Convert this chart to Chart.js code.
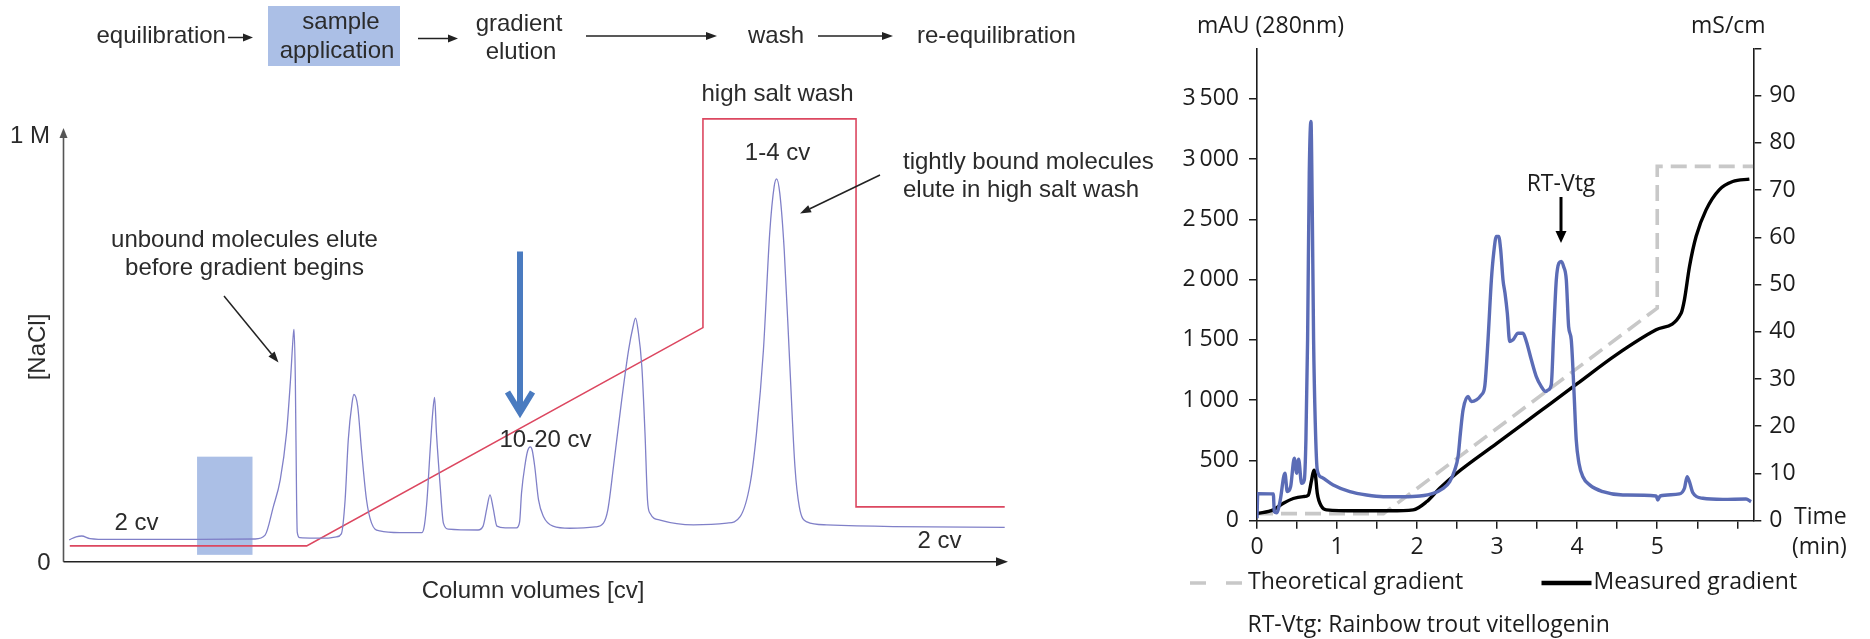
<!DOCTYPE html>
<html>
<head>
<meta charset="utf-8">
<script src="https://cdn.jsdelivr.net/npm/chart.js@4.4.1/dist/chart.umd.min.js"></script>
<style>
  html, body { margin: 0; padding: 0; background: #fff; }
  body { width: 1870px; height: 639px; position: relative; overflow: hidden; }
  canvas { position: absolute; top: 0; }
  #ionx { left: 0; }
  #vtg { left: 1150px; }
</style>
</head>
<body>
<canvas id="ionx" width="1170" height="639"></canvas>
<canvas id="vtg" width="720" height="639"></canvas>
<script>
// ---------- Schematic ion-exchange run: column volumes vs [NaCl] ----------
const stageLabels = ['equilibration', 'sample application', 'gradient elution', 'wash', 're-equilibration'];

// salt concentration programme (cv, M)
const saltCv = [0.10, 3.86, 10.15, 10.15, 12.58, 12.58, 14.94];
const saltM  = [0.037, 0.037, 0.546, 1.033, 1.033, 0.128, 0.128];

// UV absorbance trace (cv, relative signal on the same axis)
const uvCv = [0.09, 0.2, 0.29, 0.42, 0.74, 2.17, 3.04, 3.2, 3.33, 3.44, 3.54, 3.6, 3.65, 3.66, 3.68, 3.7, 3.71, 3.75,
  3.99, 4.2, 4.33, 4.41, 4.47, 4.52, 4.58, 4.61, 4.67, 4.73, 4.81, 4.89, 5.02, 5.34, 5.69, 5.73, 5.77, 5.82, 5.86,
  5.89, 5.92, 5.98, 6.03, 6.11, 6.58, 6.66, 6.72, 6.77, 6.82, 6.88, 7.01, 7.19, 7.24, 7.27, 7.33, 7.37, 7.41, 7.44,
  7.48, 7.54, 7.62, 7.77, 8.04, 8.44, 8.57, 8.64, 8.73, 8.86, 8.97, 9.04, 9.08, 9.12, 9.18, 9.23, 9.27, 9.31, 9.47,
  10.0, 10.53, 10.74, 10.9, 11.0, 11.11, 11.21, 11.28, 11.32, 11.37, 11.44, 11.53, 11.61, 11.68, 11.8, 12.11, 13.17, 14.94];
const uvSignal = [0.051, 0.058, 0.060, 0.054, 0.052, 0.052, 0.053, 0.062, 0.128, 0.191, 0.300, 0.417, 0.533, 0.542,
  0.424, 0.144, 0.069, 0.056, 0.055, 0.055, 0.058, 0.065, 0.144, 0.284, 0.370, 0.390, 0.362, 0.261, 0.144, 0.090,
  0.072, 0.068, 0.068, 0.086, 0.144, 0.261, 0.347, 0.383, 0.300, 0.175, 0.090, 0.076, 0.074, 0.083, 0.125, 0.156,
  0.125, 0.083, 0.079, 0.079, 0.093, 0.160, 0.230, 0.260, 0.268, 0.260, 0.222, 0.144, 0.105, 0.083, 0.078, 0.081,
  0.090, 0.121, 0.222, 0.377, 0.494, 0.548, 0.568, 0.540, 0.455, 0.300, 0.144, 0.113, 0.097, 0.086, 0.090, 0.105,
  0.183, 0.300, 0.494, 0.767, 0.875, 0.893, 0.859, 0.727, 0.455, 0.222, 0.128, 0.093, 0.086, 0.082, 0.080];

// sample application zone (cv range, signal range)
const sampleZoneCv = [2.12, 3.00];
const sampleZoneLevel = [0.016, 0.245];

// ---------- RT-Vtg purification run ----------
const a280Time = [0.0, 0.01, 0.204, 0.216, 0.245, 0.287, 0.349, 0.378, 0.420, 0.466, 0.495, 0.520, 0.557, 0.591,
  0.611, 0.632, 0.653, 0.674, 0.690, 0.707, 0.728, 0.753, 0.807, 0.952, 1.160, 1.368, 1.576, 1.826, 2.034, 2.200,
  2.325, 2.408, 2.470, 2.512, 2.541, 2.574, 2.637, 2.678, 2.741, 2.803, 2.845, 2.886, 2.928, 2.957, 2.990, 3.019,
  3.044, 3.073, 3.098, 3.127, 3.157, 3.198, 3.261, 3.323, 3.365, 3.427, 3.489, 3.552, 3.606, 3.635, 3.676, 3.706,
  3.739, 3.772, 3.801, 3.830, 3.864, 3.893, 3.926, 3.959, 3.988, 4.022, 4.071, 4.155, 4.321, 4.571, 4.986, 5.007,
  5.036, 5.278, 5.340, 5.373, 5.402, 5.444, 5.569, 5.818, 6.109, 6.172];
const a280Mau = [20, 225, 222, 75, 66, 158, 394, 241, 282, 518, 394, 510, 310, 338, 670, 1501, 2885, 3314, 2608,
  1501, 809, 421, 360, 297, 241, 213, 199, 199, 205, 227, 269, 324, 421, 532, 726, 919, 1030, 988, 1002, 1044, 1113,
  1501, 1999, 2221, 2359, 2359, 2249, 1999, 1889, 1723, 1487, 1501, 1556, 1556, 1487, 1335, 1196, 1113, 1071, 1085,
  1127, 1556, 1999, 2138, 2151, 2110, 1999, 1611, 1501, 1085, 670, 477, 365, 297, 241, 213, 205, 172, 205, 222, 269,
  365, 324, 233, 186, 177, 180, 158];

const measuredTime = [0.0, 0.204, 0.329, 0.453, 0.578, 0.640, 0.682, 0.711, 0.728, 0.753, 0.807, 0.869, 1.244, 1.659,
  1.951, 2.117, 2.283, 2.491, 3.0, 3.5, 4.0, 4.487, 4.986, 5.298, 5.340, 5.403, 5.486, 5.610, 5.777, 5.943, 6.151];
const measuredMs = [1.5, 2.3, 3.7, 4.7, 5.1, 5.4, 8.6, 10.7, 10.0, 5.8, 3.0, 2.3, 2.1, 2.1, 2.3, 4.0, 6.9, 10.0, 16.4,
  22.7, 29.0, 35.1, 40.4, 43.9, 46.8, 53.8, 60.2, 65.8, 70.1, 71.8, 72.3];

const theoreticalTime = [0.0, 1.58, 5.0, 5.0, 6.2];
const theoreticalMs = [1.5, 1.5, 45, 75, 75];

const seriesNames = ['mAU (280nm)', 'Measured gradient', 'Theoretical gradient'];

// ---------- drawing helpers ----------
const SANS = '"Liberation Sans", Arial, Helvetica, sans-serif';
const ROUND = '"Open Sans", "Noto Sans", sans-serif';
const SAMPLE_FILL = '#abbfe6';

function pairs(xs, ys) { return xs.map((x, i) => ({ x, y: ys[i] })); }

function text(ctx, s, x, y, opt) {
  const o = Object.assign({ size: 24, family: SANS, align: 'left', color: '#2b2b2b' }, opt || {});
  ctx.font = o.size + 'px ' + o.family;
  ctx.fillStyle = o.color;
  ctx.textAlign = o.align;
  ctx.textBaseline = 'middle';
  ctx.fillText(s, x, y);
}

function arrow(ctx, x1, y1, x2, y2, opt) {
  const o = Object.assign({ color: '#222', width: 1.5, head: 10, half: 4 }, opt || {});
  const a = Math.atan2(y2 - y1, x2 - x1);
  const bx = x2 - o.head * Math.cos(a), by = y2 - o.head * Math.sin(a);
  ctx.strokeStyle = o.color; ctx.lineWidth = o.width; ctx.lineCap = 'butt';
  ctx.beginPath(); ctx.moveTo(x1, y1); ctx.lineTo(bx, by); ctx.stroke();
  ctx.fillStyle = o.color;
  ctx.beginPath();
  ctx.moveTo(x2, y2);
  ctx.lineTo(bx + o.half * Math.sin(a), by - o.half * Math.cos(a));
  ctx.lineTo(bx - o.half * Math.sin(a), by + o.half * Math.cos(a));
  ctx.closePath(); ctx.fill();
}

// ---------- left: schematic ----------
const ionxDecor = {
  id: 'ionxDecor',
  beforeDatasetsDraw(chart) {
    const { ctx, scales: { x, y } } = chart;
    const x0 = x.getPixelForValue(sampleZoneCv[0]), x1 = x.getPixelForValue(sampleZoneCv[1]);
    const y0 = y.getPixelForValue(sampleZoneLevel[0]), y1 = y.getPixelForValue(sampleZoneLevel[1]);
    ctx.save();
    ctx.fillStyle = SAMPLE_FILL;
    ctx.fillRect(x0, y1, x1 - x0, y0 - y1);
    ctx.restore();
  },
  afterDraw(chart) {
    const { ctx, chartArea: ca } = chart;
    ctx.save();
    // axes with arrow heads
    arrow(ctx, ca.left, ca.bottom, ca.left, 128, { color: '#555', width: 1.6, head: 10, half: 4 });
    arrow(ctx, ca.left, ca.bottom, 1008, ca.bottom, { color: '#222', width: 1.6, head: 12, half: 4.5 });
    text(ctx, '1 M', 50, 136, { align: 'right' });
    text(ctx, '0', 44, 563, { align: 'center' });
    ctx.save();
    ctx.translate(38.5, 347); ctx.rotate(-Math.PI / 2);
    text(ctx, '[NaCl]', 0, 0, { align: 'center' });
    ctx.restore();
    text(ctx, 'Column volumes [cv]', 533, 591, { align: 'center' });

    // process stages along the top
    ctx.fillStyle = SAMPLE_FILL;
    ctx.fillRect(268, 6, 132, 60);
    text(ctx, stageLabels[0], 96.5, 36.5);
    arrow(ctx, 228, 37.5, 253, 37.5, { head: 10, half: 4 });
    text(ctx, 'sample', 341, 22.5, { align: 'center' });
    text(ctx, 'application', 337, 51.5, { align: 'center' });
    arrow(ctx, 418, 38.5, 458, 38.5, { head: 10, half: 4 });
    text(ctx, 'gradient', 519, 24, { align: 'center' });
    text(ctx, 'elution', 521, 52, { align: 'center' });
    arrow(ctx, 586, 36, 717, 36, { head: 11, half: 4 });
    text(ctx, stageLabels[3], 748, 36.5);
    arrow(ctx, 818, 36, 893, 36, { head: 11, half: 4 });
    text(ctx, stageLabels[4], 917, 36.5);

    // annotations
    text(ctx, 'high salt wash', 777.5, 94, { align: 'center' });
    text(ctx, 'unbound molecules elute', 244.5, 240, { align: 'center' });
    text(ctx, 'before gradient begins', 244.5, 268.5, { align: 'center' });
    arrow(ctx, 224, 296, 278.5, 362.5, { head: 11, half: 4 });
    text(ctx, '2 cv', 136.5, 523.5, { align: 'center' });
    text(ctx, '10-20 cv', 545.5, 440.5, { align: 'center' });
    text(ctx, '1-4 cv', 777.5, 153.5, { align: 'center' });
    text(ctx, 'tightly bound molecules', 903, 162.5);
    text(ctx, 'elute in high salt wash', 903, 190);
    arrow(ctx, 880, 175, 800, 213.5, { head: 11, half: 4 });
    text(ctx, '2 cv', 939.5, 541.5, { align: 'center' });

    // gradient start marker
    ctx.strokeStyle = '#4a7bc0'; ctx.lineWidth = 6; ctx.lineJoin = 'miter'; ctx.lineCap = 'butt';
    ctx.beginPath(); ctx.moveTo(520, 251.5); ctx.lineTo(520, 410); ctx.stroke();
    ctx.beginPath(); ctx.moveTo(507.5, 392); ctx.lineTo(520, 412.5); ctx.lineTo(532.5, 392); ctx.stroke();
    ctx.restore();
  }
};

new Chart(document.getElementById('ionx'), {
  type: 'scatter',
  data: {
    datasets: [
      { label: 'UV', data: pairs(uvCv, uvSignal), showLine: true, borderColor: '#8080c8', borderWidth: 1.3,
        pointRadius: 0, cubicInterpolationMode: 'monotone', fill: false },
      { label: '[NaCl]', data: pairs(saltCv, saltM), showLine: true, borderColor: '#dc4760', borderWidth: 1.6,
        pointRadius: 0, tension: 0, fill: false }
    ]
  },
  options: {
    responsive: false, animation: false, events: [],
    layout: { padding: { left: 63.5, right: 161.5, top: 98.7, bottom: 77.3 } },
    plugins: { legend: { display: false }, tooltip: { enabled: false } },
    scales: {
      x: { type: 'linear', min: 0, max: 15, display: false },
      y: { type: 'linear', min: 0, max: 1.08, display: false }
    }
  },
  plugins: [ionxDecor]
});

// ---------- right: RT-Vtg chromatogram ----------
const INK = '#1c1c1c';
const tickFont = { family: ROUND, size: 23 };
const axisGrid = { display: true, drawOnChartArea: false, drawTicks: true, tickLength: 8, color: INK, lineWidth: 1.5 };
const axisBorder = { display: true, color: INK, width: 1.6 };

const vtgDecor = {
  id: 'vtgDecor',
  afterDraw(chart) {
    const { ctx } = chart;
    const ds = chart.data.datasets;
    ctx.save();
    text(ctx, seriesNames[0], 47, 26, { family: ROUND, size: 23, color: INK });
    text(ctx, 'mS/cm', 541, 26, { family: ROUND, size: 23, color: INK });
    text(ctx, 'Time', 644, 517, { family: ROUND, size: 23, color: INK });
    text(ctx, '(min)', 642, 547, { family: ROUND, size: 23, color: INK });

    text(ctx, 'RT-Vtg', 411, 184, { family: ROUND, size: 23, color: INK, align: 'center' });
    arrow(ctx, 411, 197, 411, 243, { color: '#000', width: 3, head: 12, half: 5.5 });

    // legend
    const theo = ds[2], meas = ds[1];
    ctx.strokeStyle = theo.borderColor; ctx.lineWidth = theo.borderWidth; ctx.setLineDash([16, 20]);
    ctx.beginPath(); ctx.moveTo(40, 583); ctx.lineTo(97, 583); ctx.stroke();
    ctx.setLineDash([]);
    text(ctx, theo.label, 98, 582, { family: ROUND, size: 23, color: INK });
    ctx.strokeStyle = meas.borderColor; ctx.lineWidth = 4.5;
    ctx.beginPath(); ctx.moveTo(391.5, 583); ctx.lineTo(441.5, 583); ctx.stroke();
    text(ctx, meas.label, 443.5, 582, { family: ROUND, size: 23, color: INK });

    text(ctx, 'RT-Vtg: Rainbow trout vitellogenin', 97.5, 625, { family: ROUND, size: 23, color: INK });
    ctx.restore();
  }
};

function thousands(v) {
  if (v % 500 !== 0) return null;
  return v >= 1000 ? Math.floor(v / 1000) + '\u2009' + String(v % 1000).padStart(3, '0') : String(v);
}

new Chart(document.getElementById('vtg'), {
  type: 'scatter',
  data: {
    datasets: [
      { label: seriesNames[0], data: pairs(a280Time, a280Mau), yAxisID: 'y', showLine: true,
        borderColor: '#5b6cb6', borderWidth: 3.4, pointRadius: 0, cubicInterpolationMode: 'monotone' },
      { label: seriesNames[1], data: pairs(measuredTime, measuredMs), yAxisID: 'y1', showLine: true,
        borderColor: '#000000', borderWidth: 3.4, pointRadius: 0, cubicInterpolationMode: 'monotone' },
      { label: seriesNames[2], data: pairs(theoreticalTime, theoreticalMs), yAxisID: 'y1', showLine: true,
        borderColor: '#c8c8c8', borderWidth: 3.6, borderDash: [16, 8], pointRadius: 0, tension: 0 }
    ]
  },
  options: {
    responsive: false, animation: false, events: [],
    layout: { padding: { top: 48.3, left: 0, right: 0, bottom: 0 } },
    plugins: { legend: { display: false }, tooltip: { enabled: false } },
    scales: {
      x: {
        type: 'linear', min: 0, max: 6.2,
        afterFit(s) { s.height = 118.3; },
        ticks: { stepSize: 0.5, maxTicksLimit: 20, includeBounds: false, autoSkip: false, maxRotation: 0, padding: 5,
          color: INK, font: tickFont,
          callback: v => (Math.abs(v - Math.round(v)) < 1e-6 && v <= 5) ? String(Math.round(v)) : '' },
        grid: axisGrid, border: axisBorder
      },
      y: {
        type: 'linear', position: 'left', min: 0, suggestedMax: 3920, bounds: 'data',
        afterFit(s) { s.width = 107; },
        ticks: { stepSize: 500, maxTicksLimit: 20, padding: 10, color: INK, font: tickFont, callback: thousands },
        grid: axisGrid, border: axisBorder
      },
      y1: {
        type: 'linear', position: 'right', min: 0, max: 100,
        afterFit(s) { s.width = 116.7; },
        ticks: { stepSize: 10, padding: 8, color: INK, font: tickFont, callback: v => (v === 100 ? '' : String(v)) },
        grid: axisGrid, border: axisBorder
      }
    }
  },
  plugins: [vtgDecor]
});
</script>
</body>
</html>
